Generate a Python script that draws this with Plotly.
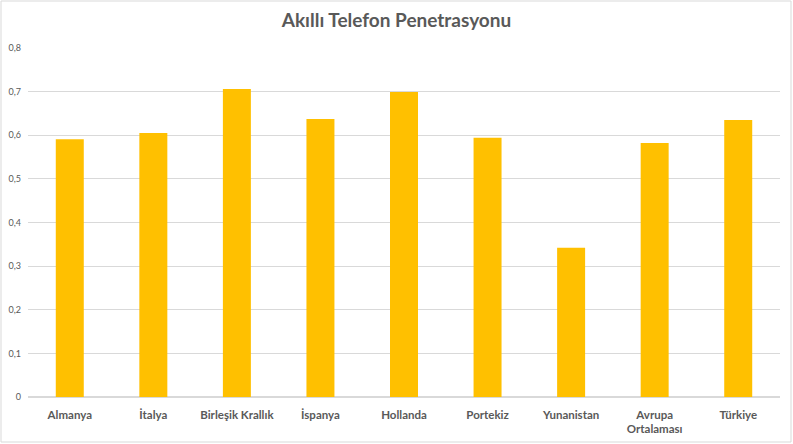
import plotly.graph_objs as go

# Akıllı telefon penetrasyonu, ülkelere göre
countries = ['Almanya', 'İtalya', 'Birleşik Krallık', 'İspanya', 'Hollanda',
             'Portekiz', 'Yunanistan', 'Avrupa<br>Ortalaması', 'Türkiye']
penetration = [0.591, 0.605, 0.706, 0.637, 0.699, 0.594, 0.342, 0.582, 0.635]

y_ticks = [0, 0.1, 0.2, 0.3, 0.4, 0.5, 0.6, 0.7, 0.8]

trace = go.Bar(
    x=countries,
    y=penetration,
    marker=dict(color='#FFC000', line=dict(width=0)),
    hoverinfo='x+y'
)

W, H = 793, 444
ml, mr, mt, mb = 28, 13, 48, 47
pw, ph = W - ml - mr, H - mt - mb

layout = go.Layout(
    width=W,
    height=H,
    margin=dict(l=ml, r=mr, t=mt, b=mb, pad=0, autoexpand=False),
    paper_bgcolor='white',
    plot_bgcolor='white',
    separators=',.',
    showlegend=False,
    bargap=0.665,
    title=dict(
        text='<b>Akıllı Telefon Penetrasyonu</b>',
        x=0.5,
        xanchor='center',
        yref='container',
        y=1 - 20.0 / H,
        yanchor='middle',
        font=dict(family='Lato, Open Sans, sans-serif', size=19, color='#595959')
    ),
    font=dict(family='Lato, Open Sans, sans-serif', color='#595959'),
    xaxis=dict(
        showgrid=False,
        zeroline=False,
        showline=False,
        ticks='',
        automargin=False,
        ticklabelstandoff=9,
        tickfont=dict(size=11.5, color='#595959', family='Lato, Open Sans, sans-serif', weight='bold'),
    ),
    yaxis=dict(
        range=[0, 0.8],
        tickvals=y_ticks,
        showgrid=True,
        gridcolor='#D9D9D9',
        gridwidth=1,
        zeroline=True,
        zerolinecolor='#D9D9D9',
        showline=False,
        ticks='',
        automargin=False,
        ticklabelstandoff=6,
        tickfont=dict(size=9, color='#595959'),
    ),
    shapes=[dict(
        type='rect',
        xref='paper', yref='paper',
        x0=(1 - ml) / pw, x1=(W - 2 - ml) / pw,
        y0=(2 - mb) / ph, y1=(H - 1 - mb) / ph,
        line=dict(color='#D9D9D9', width=1),
        fillcolor='rgba(0,0,0,0)',
        layer='below'
    )]
)

fig = go.Figure(data=[trace], layout=layout)
# page body has an 8px default margin, drop it so the chart sits at 0,0
fig.write_html('out.html', config={'displayModeBar': False},
               post_script="document.body.style.margin='0';")
